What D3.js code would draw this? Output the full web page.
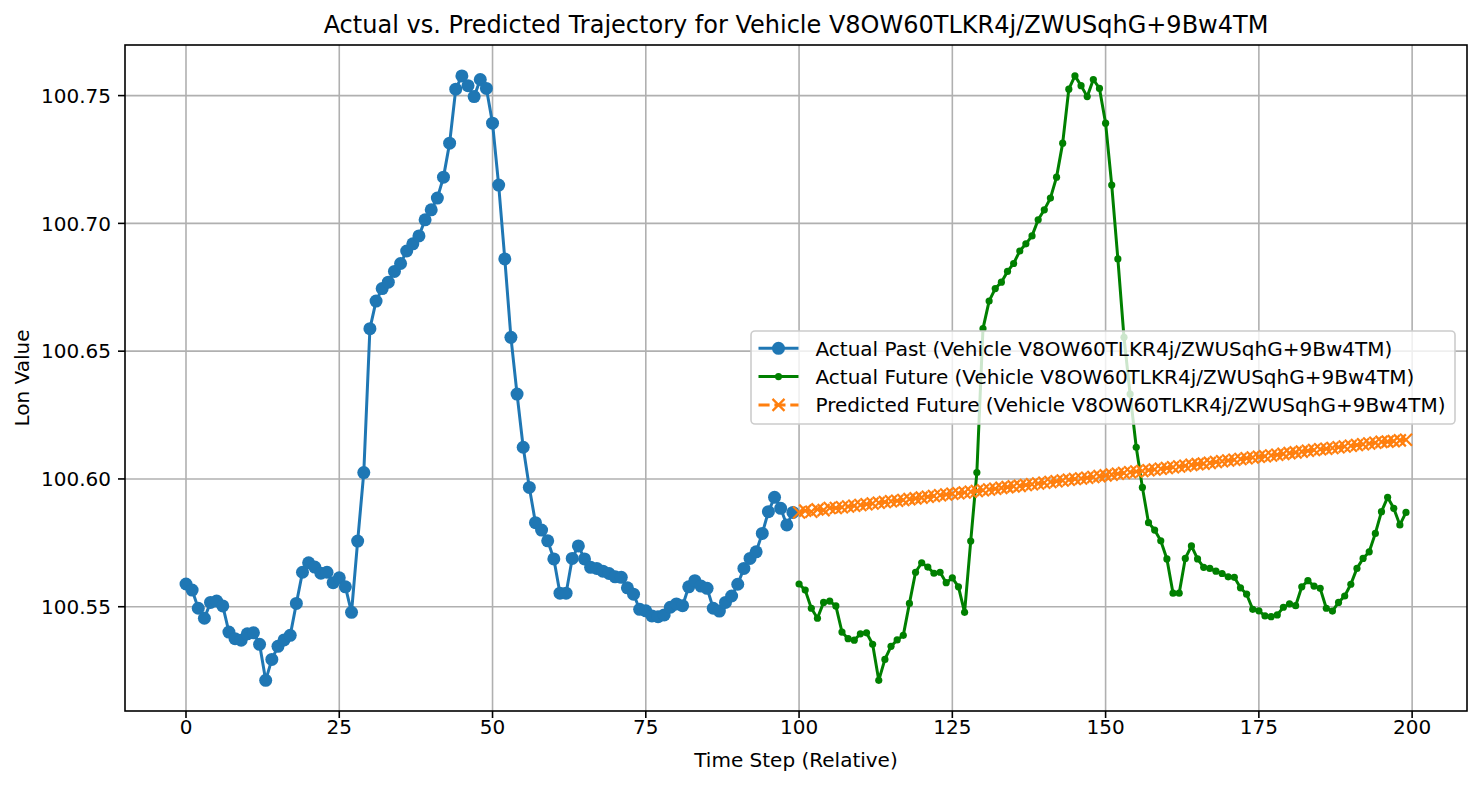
<!DOCTYPE html>
<html>
<head>
<meta charset="utf-8">
<script src="https://cdn.jsdelivr.net/npm/d3@7"></script>
<style>
  body { margin: 0; background: #fff; }
  svg { font-family: "DejaVu Sans", sans-serif; }
</style>
</head>
<body>
<svg id="chart" width="1479" height="785"></svg>
<script>
// ------------------- Data -------------------
const vehicleId = "V8OW60TLKR4j/ZWUSqhG+9Bw4TM";

const actualPast = [
  100.5589, 100.5565, 100.5494, 100.5455, 100.5517, 100.5522, 100.5503, 100.5401, 100.5375, 100.5369,
  100.5394, 100.5398, 100.5353, 100.5212, 100.5294, 100.5345, 100.5370, 100.5388, 100.5513, 100.5635,
  100.5672, 100.5655, 100.5631, 100.5635, 100.5594, 100.5613, 100.5578, 100.5478, 100.5757, 100.6025,
  100.6588, 100.6696, 100.6745, 100.6770, 100.6812, 100.6843, 100.6892, 100.6920, 100.6951, 100.7014,
  100.7053, 100.7099, 100.7181, 100.7314, 100.7525, 100.7577, 100.7539, 100.7496, 100.7563, 100.7528,
  100.7392, 100.7150, 100.6861, 100.6554, 100.6332, 100.6124, 100.5967, 100.5829, 100.5800, 100.5758,
  100.5687, 100.5553, 100.5553, 100.5689, 100.5738, 100.5687, 100.5654, 100.5650, 100.5639, 100.5630,
  100.5617, 100.5615, 100.5574, 100.5549, 100.5490, 100.5484, 100.5464, 100.5461, 100.5468, 100.5498,
  100.5511, 100.5504, 100.5578, 100.5602, 100.5581, 100.5572, 100.5494, 100.5483, 100.5517, 100.5542,
  100.5588, 100.5650, 100.5689, 100.5715, 100.5787, 100.5872, 100.5928, 100.5885, 100.5820, 100.5869
];

const actualFuture = [
  100.5589, 100.5565, 100.5494, 100.5455, 100.5517, 100.5522, 100.5503, 100.5401, 100.5375, 100.5369,
  100.5394, 100.5398, 100.5353, 100.5212, 100.5294, 100.5345, 100.5370, 100.5388, 100.5513, 100.5635,
  100.5672, 100.5655, 100.5631, 100.5635, 100.5594, 100.5613, 100.5578, 100.5478, 100.5757, 100.6025,
  100.6588, 100.6696, 100.6745, 100.6770, 100.6812, 100.6843, 100.6892, 100.6920, 100.6951, 100.7014,
  100.7053, 100.7099, 100.7181, 100.7314, 100.7525, 100.7577, 100.7539, 100.7496, 100.7563, 100.7528,
  100.7392, 100.7150, 100.6861, 100.6554, 100.6332, 100.6124, 100.5967, 100.5829, 100.5800, 100.5758,
  100.5687, 100.5553, 100.5553, 100.5689, 100.5738, 100.5687, 100.5654, 100.5650, 100.5639, 100.5630,
  100.5617, 100.5615, 100.5574, 100.5549, 100.5490, 100.5484, 100.5464, 100.5461, 100.5468, 100.5498,
  100.5511, 100.5504, 100.5578, 100.5602, 100.5581, 100.5572, 100.5494, 100.5483, 100.5517, 100.5542,
  100.5588, 100.5650, 100.5689, 100.5715, 100.5787, 100.5872, 100.5928, 100.5885, 100.5820, 100.5869
];

const predictedFuture = [
  100.5869, 100.5876, 100.5872, 100.5881, 100.5878, 100.5886, 100.5886, 100.5889, 100.5892, 100.5895,
  100.5898, 100.5901, 100.5904, 100.5907, 100.5910, 100.5913, 100.5915, 100.5918, 100.5921, 100.5924,
  100.5927, 100.5930, 100.5933, 100.5936, 100.5939, 100.5942, 100.5944, 100.5947, 100.5950, 100.5953,
  100.5956, 100.5959, 100.5962, 100.5965, 100.5968, 100.5971, 100.5973, 100.5976, 100.5979, 100.5982,
  100.5985, 100.5988, 100.5991, 100.5994, 100.5997, 100.6000, 100.6002, 100.6005, 100.6008, 100.6011,
  100.6014, 100.6017, 100.6020, 100.6023, 100.6026, 100.6029, 100.6031, 100.6034, 100.6037, 100.6040,
  100.6043, 100.6046, 100.6049, 100.6052, 100.6055, 100.6058, 100.6060, 100.6063, 100.6066, 100.6069,
  100.6072, 100.6075, 100.6078, 100.6081, 100.6084, 100.6087, 100.6089, 100.6092, 100.6095, 100.6098,
  100.6101, 100.6104, 100.6107, 100.6110, 100.6113, 100.6116, 100.6118, 100.6121, 100.6124, 100.6127,
  100.6130, 100.6133, 100.6136, 100.6139, 100.6142, 100.6145, 100.6146, 100.6148, 100.6151, 100.6153
];

const xTicks = [0, 25, 50, 75, 100, 125, 150, 175, 200];
const yTicks = [100.55, 100.60, 100.65, 100.70, 100.75];

// ------------------- Setup -------------------
const svg = d3.select("#chart");
const plot = { left: 125, right: 1467, top: 45, bottom: 711 };

const x = d3.scaleLinear().domain([-9.95, 208.95]).range([plot.left, plot.right]);
const y = d3.scaleLinear().domain([100.5092, 100.7698]).range([plot.bottom, plot.top]);

const colors = { past: "#1f77b4", future: "#008000", pred: "#ff7f0e" };

const pastData = actualPast.map((v, i) => ({ t: i, v }));
const futureData = actualFuture.map((v, i) => ({ t: 100 + i, v }));
const predData = predictedFuture.map((v, i) => ({ t: 100 + i, v }));

// ------------------- Grid -------------------
const grid = svg.append("g");
grid.selectAll("line.gx").data(xTicks).enter().append("line")
  .attr("x1", d => x(d)).attr("x2", d => x(d))
  .attr("y1", plot.top).attr("y2", plot.bottom)
  .attr("stroke", "#b0b0b0").attr("stroke-width", 1.6);
grid.selectAll("line.gy").data(yTicks).enter().append("line")
  .attr("x1", plot.left).attr("x2", plot.right)
  .attr("y1", d => y(d)).attr("y2", d => y(d))
  .attr("stroke", "#b0b0b0").attr("stroke-width", 1.6);

// ------------------- Series -------------------
const line = d3.line().x(d => x(d.t)).y(d => y(d.v));

// actual past
svg.append("path").datum(pastData)
  .attr("d", line).attr("fill", "none")
  .attr("stroke", colors.past).attr("stroke-width", 3).attr("stroke-linejoin", "round");
svg.append("g").selectAll("circle").data(pastData).enter().append("circle")
  .attr("cx", d => x(d.t)).attr("cy", d => y(d.v)).attr("r", 6.5)
  .attr("fill", colors.past);

// actual future
svg.append("path").datum(futureData)
  .attr("d", line).attr("fill", "none")
  .attr("stroke", colors.future).attr("stroke-width", 3).attr("stroke-linejoin", "round");
svg.append("g").selectAll("circle").data(futureData).enter().append("circle")
  .attr("cx", d => x(d.t)).attr("cy", d => y(d.v)).attr("r", 3.6)
  .attr("fill", colors.future);

// predicted future
const xMark = 6;
svg.append("path").datum(predData)
  .attr("d", line).attr("fill", "none")
  .attr("stroke", colors.pred).attr("stroke-width", 3)
  .attr("stroke-dasharray", "11.1,4.8");
svg.append("g").selectAll("path").data(predData).enter().append("path")
  .attr("d", d => {
    const cx = x(d.t), cy = y(d.v);
    return `M${cx - xMark},${cy - xMark}L${cx + xMark},${cy + xMark}M${cx - xMark},${cy + xMark}L${cx + xMark},${cy - xMark}`;
  })
  .attr("stroke", colors.pred).attr("stroke-width", 2.2).attr("fill", "none");

// ------------------- Axes -------------------
svg.append("rect")
  .attr("x", plot.left).attr("y", plot.top)
  .attr("width", plot.right - plot.left).attr("height", plot.bottom - plot.top)
  .attr("fill", "none").attr("stroke", "#000").attr("stroke-width", 1.6);

const axisX = svg.append("g");
axisX.selectAll("line").data(xTicks).enter().append("line")
  .attr("x1", d => x(d)).attr("x2", d => x(d))
  .attr("y1", plot.bottom).attr("y2", plot.bottom + 7)
  .attr("stroke", "#000").attr("stroke-width", 1.6);
axisX.selectAll("text").data(xTicks).enter().append("text")
  .attr("x", d => x(d)).attr("y", plot.bottom + 23)
  .attr("text-anchor", "middle").attr("font-size", 20)
  .text(d => d);

const axisY = svg.append("g");
axisY.selectAll("line").data(yTicks).enter().append("line")
  .attr("x1", plot.left - 7).attr("x2", plot.left)
  .attr("y1", d => y(d)).attr("y2", d => y(d))
  .attr("stroke", "#000").attr("stroke-width", 1.6);
axisY.selectAll("text").data(yTicks).enter().append("text")
  .attr("x", plot.left - 14).attr("y", d => y(d) + 7.3)
  .attr("text-anchor", "end").attr("font-size", 20)
  .text(d => d.toFixed(2));

// labels + title
svg.append("text")
  .attr("x", (plot.left + plot.right) / 2).attr("y", 767)
  .attr("text-anchor", "middle").attr("font-size", 20)
  .text("Time Step (Relative)");

svg.append("text")
  .attr("transform", `translate(29, ${(plot.top + plot.bottom) / 2}) rotate(-90)`)
  .attr("text-anchor", "middle").attr("font-size", 20)
  .text("Lon Value");

svg.append("text")
  .attr("x", (plot.left + plot.right) / 2).attr("y", 33)
  .attr("text-anchor", "middle").attr("font-size", 24)
  .text(`Actual vs. Predicted Trajectory for Vehicle ${vehicleId}`);

// ------------------- Legend -------------------
const legendItems = [
  { label: `Actual Past (Vehicle ${vehicleId})`, color: colors.past, kind: "big" },
  { label: `Actual Future (Vehicle ${vehicleId})`, color: colors.future, kind: "small" },
  { label: `Predicted Future (Vehicle ${vehicleId})`, color: colors.pred, kind: "x" }
];

const legend = svg.append("g");
const legendBox = legend.append("rect")
  .attr("y", 331).attr("height", 93).attr("rx", 4).attr("ry", 4)
  .attr("fill", "#fff").attr("fill-opacity", 0.8)
  .attr("stroke", "#cccccc").attr("stroke-width", 1.6);

const rows = legend.selectAll("g.row").data(legendItems).enter().append("g");

rows.append("line")
  .attr("x1", 0).attr("x2", 40).attr("y1", 0).attr("y2", 0)
  .attr("stroke", d => d.color).attr("stroke-width", 3)
  .attr("stroke-dasharray", d => d.kind === "x" ? "11.1,4.8" : null);
rows.filter(d => d.kind !== "x").append("circle")
  .attr("cx", 20).attr("cy", 0).attr("r", d => d.kind === "big" ? 6.5 : 3.6)
  .attr("fill", d => d.color);
rows.filter(d => d.kind === "x").append("path")
  .attr("d", `M${20 - xMark},${-xMark}L${20 + xMark},${xMark}M${20 - xMark},${xMark}L${20 + xMark},${-xMark}`)
  .attr("stroke", d => d.color).attr("stroke-width", 2.2).attr("fill", "none");
const labels = rows.append("text")
  .attr("x", 57).attr("y", 7.3).attr("font-size", 20)
  .text(d => d.label);

// legend box anchored to the right of the axes ("center right")
const boxRight = 1455, boxLeft = 751;
legendBox.attr("x", boxLeft).attr("width", boxRight - boxLeft);
rows.attr("transform", (d, i) => `translate(${boxLeft + 7.5}, ${348.3 + i * 28.3})`);
</script>
</body>
</html>
